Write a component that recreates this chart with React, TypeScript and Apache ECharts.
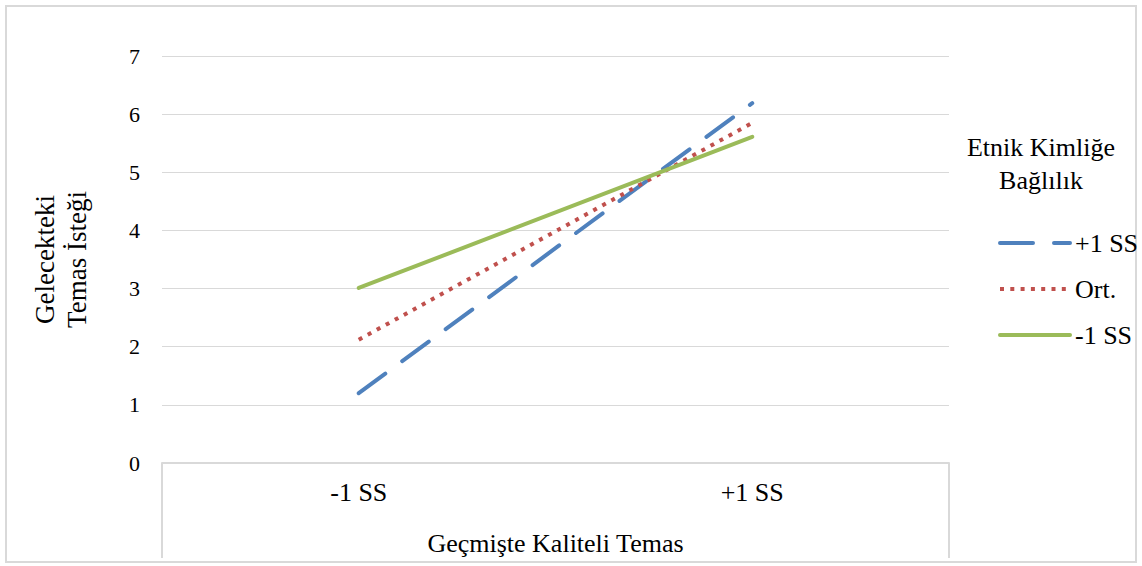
import React, { useEffect, useRef } from "react";
import * as echarts from "echarts";

const categories = ["-1 SS", "+1 SS"];
const seriesNames = ["+1 SS", "Ort.", "-1 SS"];
const highValues = [1.2, 6.19];
const meanValues = [2.12, 5.85];
const lowValues = [3.01, 5.61];
const yTicks = { min: 0, max: 7, interval: 1 };

const FONT = "Liberation Serif, Times New Roman, serif";
const W = 1142;
const H = 566;
const G = { left: 162, right: 193, top: 56, bottom: 103 };

export default function App() {
  const ref = useRef<HTMLDivElement>(null);
  useEffect(() => {
    if (!ref.current) return;
    const chart = echarts.init(ref.current, null, { renderer: "svg" });
    const axisY = H - G.bottom;
    const plotRight = W - G.right;
    chart.setOption({
      animation: false,
      backgroundColor: "#ffffff",
      textStyle: { fontFamily: FONT },
      grid: { left: G.left, right: G.right, top: G.top, bottom: G.bottom, containLabel: false },
      xAxis: {
        type: "category",
        data: categories,
        boundaryGap: true,
        axisLine: { show: true, lineStyle: { color: "#d9d9d9", width: 2 } },
        axisTick: { show: false },
        axisLabel: { color: "#000", fontFamily: FONT, fontSize: 26, margin: 16 },
        name: "Geçmişte Kaliteli Temas",
        nameLocation: "middle",
        nameGap: 67,
        nameTextStyle: { color: "#000", fontFamily: FONT, fontSize: 26 },
      },
      yAxis: {
        type: "value",
        min: yTicks.min,
        max: yTicks.max,
        interval: yTicks.interval,
        axisLine: { show: false },
        axisTick: { show: false },
        axisLabel: { color: "#000", fontFamily: FONT, fontSize: 22, margin: 22 },
        splitLine: { show: true, lineStyle: { color: "#d9d9d9", width: 1 } },
      },
      legend: {
        orient: "vertical",
        left: 993,
        top: 225,
        itemWidth: 70,
        itemHeight: 14,
        itemGap: 20,
        itemStyle: { opacity: 0 },
        lineStyle: { width: 4 },
        textStyle: { color: "#000", fontFamily: FONT, fontSize: 26, lineHeight: 26 },
        data: seriesNames,
      },
      graphic: [
        {
          type: "rect",
          shape: { x: 6, y: 6, width: W - 12, height: H - 10 },
          style: { fill: "none", stroke: "#d9d9d9", lineWidth: 2 },
          silent: true,
        },
        {
          type: "line",
          shape: { x1: G.left, y1: axisY, x2: G.left, y2: axisY + 95 },
          style: { stroke: "#d9d9d9", lineWidth: 2 },
          silent: true,
        },
        {
          type: "line",
          shape: { x1: plotRight, y1: axisY, x2: plotRight, y2: axisY + 95 },
          style: { stroke: "#d9d9d9", lineWidth: 2 },
          silent: true,
        },
        {
          type: "text",
          x: 61,
          y: (G.top + axisY) / 2,
          rotation: Math.PI / 2,
          style: {
            text: "Gelecekteki\nTemas İsteği",
            fill: "#000",
            fontFamily: FONT,
            fontSize: 27,
            align: "center",
            verticalAlign: "middle",
            lineHeight: 32,
          },
          silent: true,
        },
        {
          type: "text",
          x: 1041,
          y: 164,
          style: {
            text: "Etnik Kimliğe\nBağlılık",
            fill: "#000",
            fontFamily: FONT,
            fontSize: 26,
            align: "center",
            verticalAlign: "middle",
            lineHeight: 33,
          },
          silent: true,
        },
      ],
      series: [
        {
          name: seriesNames[0],
          type: "line",
          data: highValues,
          symbol: "none",
          showSymbol: false,
          itemStyle: { color: "#4F81BD" },
          lineStyle: { color: "#4F81BD", width: 4, type: [33, 21], cap: "round" },
        },
        {
          name: seriesNames[1],
          type: "line",
          data: meanValues,
          symbol: "none",
          showSymbol: false,
          itemStyle: { color: "#C0504D" },
          lineStyle: { color: "#C0504D", width: 4, type: [4, 6.3], cap: "butt" },
        },
        {
          name: seriesNames[2],
          type: "line",
          data: lowValues,
          symbol: "none",
          showSymbol: false,
          itemStyle: { color: "#9BBB59" },
          lineStyle: { color: "#9BBB59", width: 4, type: "solid", cap: "round" },
        },
      ],
    });
    return () => chart.dispose();
  }, []);
  return (
    <div
      ref={ref}
      style={{ position: "fixed", left: 0, top: 0, width: W, height: H }}
    />
  );
}
